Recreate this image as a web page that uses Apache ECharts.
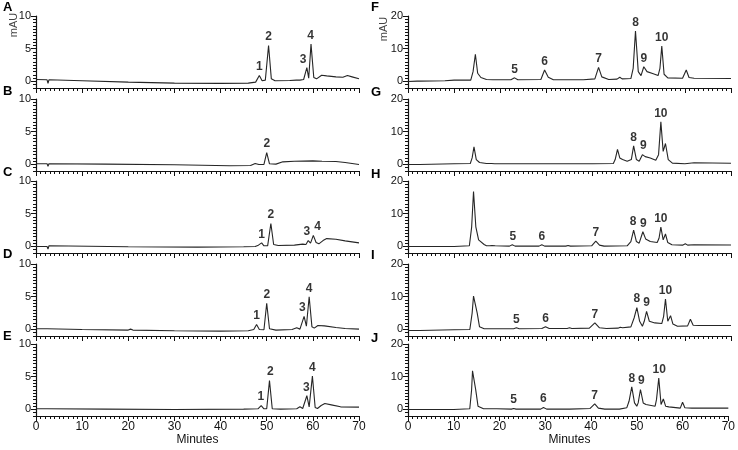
<!DOCTYPE html>
<html><head><meta charset="utf-8">
<script src="https://cdn.jsdelivr.net/npm/echarts@6/dist/echarts.min.js"></script>
<style>html,body{margin:0;padding:0;background:#fff}#c{width:738px;height:450px}</style>
</head><body><div id="c"></div>
<script>
// ---------- data ----------
const panelLetters = ['A','B','C','D','E','F','G','H','I','J'];
const xTickValues = [0,10,20,30,40,50,60,70];
const yTicksLeft = [0,5,10];
const yTicksRight = [0,10,20];
const xTitle = 'Minutes';
const yTitle = 'mAU';

// traces: [minutes, mAU]
const traceA = [[0,0.3],[2.4,0.25],[2.6,-0.3],[2.8,0.25],[10,0.1],[20,-0.1],[30,-0.25],[40,-0.3],[46,-0.25],
 [47.6,-0.1],[48.4,0.9],[49.0,0.1],[49.7,0.2],[50.4,5.5],[51.0,0.4],[51.8,0.1],
 [55,0.15],[56.4,0.2],[56.8,0.45],[57.2,0.2],[58.0,0.3],[58.7,2.1],[59.1,0.5],[59.6,5.7],[60.2,0.6],[60.8,0.4],
 [61.9,0.95],[63,0.85],[65,0.7],[66.5,0.65],[67.5,0.9],[68.5,0.7],[70,0.4]];
const traceB = [[0,0.1],[2.4,0.1],[2.6,-0.3],[2.8,0.1],[15,0.05],[30,-0.05],[42,-0.2],[46.5,-0.15],[47.5,0.15],
 [48.3,0],[49.4,0],[50.0,1.8],[50.6,0.1],[52,0.05],[53.5,0.4],[56,0.5],[60,0.55],[62,0.5],[65,0.45],[67,0.3],[70,0.0]];
const traceC = [[0,0],[2.4,0],[2.6,-0.4],[2.8,0.1],[3.0,0],[20,-0.05],[35,-0.1],[45,-0.05],[47.5,0],[48.2,0.2],
 [48.9,0.55],[49.4,0.1],[50.2,0.1],[50.9,3.5],[51.5,0.3],[52.5,0.15],[56,0.2],[57.8,0.35],[58.5,0.3],[59.0,0.9],
 [59.5,0.5],[60.1,1.7],[60.7,0.6],[61.3,0.4],[62.2,0.9],[63.0,1.2],[65,1.1],[67,0.85],[70,0.55]];
const traceD = [[0,0.1],[2.4,0.1],[2.6,-0.2],[2.8,0.1],[10,0.0],[20,-0.1],[20.5,0.05],[21,-0.1],[30,-0.2],[40,-0.25],
 [46,-0.2],[47.2,0],[47.8,0.75],[48.4,0],[49.4,-0.05],[50.0,4.0],[50.6,0.1],[52,-0.1],[55.5,0],[56.5,0.25],
 [57.2,0.05],[57.6,0.3],[58.1,2.0],[58.6,0.5],[59.2,5.0],[59.8,0.4],[60.3,0.2],[61.1,0.6],[62.5,0.55],[65,0.3],
 [67,0.15],[70,0.05]];
const traceE = [[0,0.1],[2.4,0.1],[2.6,-0.2],[2.8,0.1],[15,0.05],[30,0.0],[45,0.05],[48.1,0.1],[48.8,0.6],[49.4,0.1],
 [50.0,0.1],[50.6,4.4],[51.2,0.1],[53,0.05],[56.5,0.1],[57.2,0.4],[57.8,0.15],[58.2,0.3],[58.7,2.1],[59.2,0.4],
 [59.9,5.1],[60.5,0.3],[61,0.15],[61.8,0.6],[62.6,0.9],[64,0.7],[66,0.4],[70,0.35]];
const traceF = [[0,0],[2,0.1],[2.2,0.4],[2.5,0.1],[8,0.2],[10,0.4],[10.3,0.7],[10.6,0.4],[13.6,0.4],[14.1,3],
 [14.6,8.3],[15.1,2.5],[15.8,1.2],[17,0.6],[18.4,0.5],[18.8,0.9],[19.2,0.5],[22.3,0.5],[23.1,1.1],[23.8,0.5],
 [28.8,0.6],[29.6,3.5],[30.4,1.3],[31.5,0.5],[38,0.5],[40.5,0.8],[41.3,4.3],[42.0,1.4],[43.5,0.6],[45.3,0.7],
 [45.9,1.3],[46.4,0.8],[48.3,0.9],[48.8,4],[49.3,15.4],[49.9,3],[50.5,1.8],[51.1,4.5],[51.8,3],[53,2.4],
 [54.2,1.8],[54.6,4],[55.0,10.8],[55.5,2.2],[56.3,1.1],[59.5,1.0],[60.3,3.5],[60.9,1.2],[62,1.0],[70,0.9]];
const traceG = [[0,0],[2,0],[2.2,0.3],[2.5,0],[10,0.2],[13.5,0.3],[13.9,2],[14.3,5.4],[14.8,1.5],[15.5,0.6],
 [17,0.3],[18.1,0.3],[18.4,0.6],[18.8,0.2],[30,0.2],[40,0.2],[44.5,0.3],[44.9,1.5],[45.4,4.6],[45.9,2],
 [46.5,1.5],[47.5,1.0],[48.4,1.5],[48.9,5.7],[49.5,1.5],[50.1,1.0],[50.8,3.0],[51.4,2.4],[52.5,2.0],[53.7,1.3],
 [54.3,3],[54.8,13.0],[55.3,4],[55.8,6.4],[56.4,1.5],[57.3,0.4],[60,0.2],[62,0.5],[70,0.35]];
const traceH = [[0,0],[2,0],[2.2,0.3],[2.5,0],[10,0],[13.3,0.2],[13.8,6],[14.2,16.8],[14.7,6],[15.3,2],
 [16.5,0.6],[17.0,0.2],[17.3,0.5],[17.7,0.2],[18.2,0.3],[18.5,0.7],[18.9,0.2],[22,0.1],[22.6,0.5],[23.2,0.1],
 [28.4,0.1],[29.0,0.5],[29.6,0.1],[34.2,0.1],[34.7,0.3],[35.2,0.1],[39.8,0.2],[40.7,1.6],[41.5,0.4],[42.5,0.1],
 [47.5,0.2],[48.3,1.5],[48.9,5.0],[49.5,1.5],[50.1,1.0],[50.9,4.5],[51.5,2.3],[52.5,1.5],[54.0,1.2],[54.4,2.5],
 [54.8,5.9],[55.3,2.0],[55.8,3.8],[56.3,1.2],[57.2,0.5],[59.5,0.4],[60.1,0.8],[60.6,0.4],[62,0.5],[70,0.45]];
const traceI = [[0,-0.3],[2,-0.3],[2.2,0.1],[2.5,-0.3],[10,-0.1],[13.4,0],[13.9,5],[14.2,10.2],[14.4,9.8],[14.6,10.7],
 [15.0,5],[15.5,0.8],[16.5,0.2],[22.9,0.2],[23.5,0.5],[24.1,0.2],[29.0,0.3],[29.8,0.8],[30.6,0.3],[34.5,0.3],
 [35,0.5],[35.5,0.3],[39.3,0.4],[40.5,2.0],[41.5,0.5],[43,0.3],[45.5,0.4],[46,0.7],[46.5,0.5],[48.3,0.8],
 [49.0,3.5],[49.6,6.7],[50.2,2.5],[50.8,1.0],[51.2,2.5],[51.7,5.5],[52.3,2.5],[53.5,2.0],[55.0,1.8],[55.4,4],
 [55.8,9.3],[56.3,2.5],[56.9,4.2],[57.4,1.7],[57.8,1.6],[58.4,1.0],[60.6,1.1],[61.2,3.1],[61.8,1.3],[63,1.2],[70,1.2]];
const traceJ = [[0,0],[2,0],[2.2,0.3],[2.5,0],[10,0],[13.5,0.2],[13.9,6],[14.1,11.8],[14.5,12.0],[14.8,6],
 [15.3,1.0],[16.5,0.2],[17.3,0.2],[17.6,0.4],[18,0.2],[18.7,0.2],[19.0,0.5],[19.4,0.2],[22.6,0.1],[23.1,0.3],
 [23.6,0.1],[29.0,0.1],[29.6,0.6],[30.3,0.1],[34.7,0.1],[35,0.3],[35.3,0.1],[39.8,0.3],[40.8,1.7],[41.6,0.4],
 [43,0.1],[45.4,0.1],[45.8,0.4],[46.2,0.1],[47.8,0.5],[48.3,2.5],[48.9,6.9],[49.5,2],[50.0,1.0],[50.3,2],
 [50.8,6.1],[51.4,2],[52,1.5],[54.0,1.0],[54.3,3],[54.8,9.6],[55.3,1.5],[55.8,3.2],[56.3,1.0],[57.0,0.8],
 [59.5,0.4],[60.0,2.2],[60.5,0.5],[62,0.4],[70,0.4]];

// peak labels: [minutes, peak height, text]
const labelsA = [[48.4,0.9,'1'],[50.4,5.5,'2'],[57.9,2.1,'3'],[59.5,5.7,'4']];
const labelsB = [[50.0,1.8,'2']];
const labelsC = [[48.9,0.55,'1'],[50.9,3.5,'2'],[58.7,0.9,'3'],[61.0,1.7,'4']];
const labelsD = [[47.8,0.75,'1'],[50.0,4.0,'2'],[57.7,2.0,'3'],[59.2,5.0,'4']];
const labelsE = [[48.7,0.6,'1'],[50.8,4.4,'2'],[58.6,2.1,'3'],[59.9,5.1,'4']];
const labelsF = [[23.1,1.1,'5'],[29.6,3.5,'6'],[41.3,4.3,'7'],[49.3,15.4,'8'],[51.1,4.5,'9'],[55.0,10.8,'10']];
const labelsG = [[48.9,5.7,'8'],[51.0,3.0,'9'],[54.8,13.0,'10']];
const labelsH = [[22.7,0.5,'5'],[29.0,0.5,'6'],[40.7,1.6,'7'],[48.8,5.0,'8'],[51.0,4.5,'9'],[54.8,5.9,'10']];
const labelsI = [[23.5,0.5,'5'],[29.8,0.8,'6'],[40.5,2.0,'7'],[49.6,6.7,'8'],[51.7,5.5,'9'],[55.8,9.3,'10']];
const labelsJ = [[23.1,0.3,'5'],[29.6,0.6,'6'],[40.8,1.7,'7'],[48.9,6.9,'8'],[51.0,6.1,'9'],[54.9,9.6,'10']];

// ---------- layout / styles ----------
const traces = [traceA,traceB,traceC,traceD,traceE,traceF,traceG,traceH,traceI,traceJ];
const peakLabels = [labelsA,labelsB,labelsC,labelsD,labelsE,labelsF,labelsG,labelsH,labelsI,labelsJ];
const FONT = 'Liberation Sans';
const tops = [16, 99, 181, 264, 344];
const gridH = 72;
const gridLeft = [36, 408];
const gridW = 323;
const letterPos = [[[3,7.5],[3,91],[3,172.5],[3,254],[3,336]], [[371,7],[371,92],[371,174],[371,255],[371,338]]];
const axisColor = '#111';

const grids = [], xAxes = [], yAxes = [], series = [], graphics = [];
for (let i = 0; i < 10; i++) {
  const side = i < 5 ? 0 : 1;
  const row = i % 5;
  const yMin = side ? -2 : -1, yMax = side ? 20 : 10;
  const yMajor = side ? yTicksRight : yTicksLeft;
  grids.push({left: gridLeft[side], width: gridW, top: tops[row], height: gridH});
  const last = row === 4;
  // x axis: major ticks every 10 with minor ticks every minute
  xAxes.push({
    type: 'value', gridIndex: i, min: 0, max: 70, interval: 10,
    axisLine: {show: true, onZero: false, lineStyle: {color: axisColor, width: 1.2}},
    axisTick: {show: true, length: 5, lineStyle: {color: axisColor, width: 1}},
    minorTick: {show: true, splitNumber: 10, length: 3, lineStyle: {color: axisColor, width: 1}},
    axisLabel: {show: last, fontSize: 12, color: '#111', margin: 5, fontFamily: FONT},
    splitLine: {show: false}
  });
  // y axis (minor ticks): every 0.5 / 1 unit, counted from min
  yAxes.push({
    type: 'value', gridIndex: i, position: 'left', min: yMin, max: yMax, interval: side ? 1 : 0.5,
    axisLine: {show: true, onZero: false, lineStyle: {color: axisColor, width: 1.2}},
    axisTick: {show: true, length: 3, lineStyle: {color: axisColor, width: 1}},
    axisLabel: {show: false}, splitLine: {show: false}
  });
  // y axis (major ticks + labels)
  yAxes.push({
    type: 'value', gridIndex: i, position: 'left', min: yMin, max: yMax,
    axisLine: {show: false},
    axisTick: {show: true, length: 5, customValues: yMajor, lineStyle: {color: axisColor, width: 1}},
    axisLabel: {show: true, customValues: yMajor, fontSize: 11, color: '#111', margin: 5, fontFamily: FONT},
    splitLine: {show: false}
  });
  series.push({
    type: 'line', xAxisIndex: i, yAxisIndex: 2*i, data: traces[i], showSymbol: false, symbol: 'none',
    lineStyle: {color: '#262626', width: 1.1}, z: 3
  });
  series.push({
    type: 'scatter', xAxisIndex: i, yAxisIndex: 2*i, data: peakLabels[i], symbolSize: 1,
    itemStyle: {color: 'rgba(0,0,0,0)'}, z: 4,
    label: {show: true, position: 'top', distance: 2, formatter: p => p.value[2],
      fontSize: 12, fontWeight: 'bold', color: '#000', fontFamily: FONT}
  });
  const lp = letterPos[side][row];
  graphics.push({type: 'text', x: lp[0], y: lp[1],
    style: {text: panelLetters[i], fontSize: 13, fontWeight: 'bold', fill: '#000', fontFamily: FONT,
      align: 'left', verticalAlign: 'middle'}});
}
graphics.push({type: 'text', x: 14, y: 25, rotation: Math.PI/2,
  style: {text: yTitle, fontSize: 11, fill: '#444', fontFamily: FONT, align: 'center', verticalAlign: 'middle'}});
graphics.push({type: 'text', x: 383.5, y: 29, rotation: Math.PI/2,
  style: {text: yTitle, fontSize: 11, fill: '#444', fontFamily: FONT, align: 'center', verticalAlign: 'middle'}});
graphics.push({type: 'text', x: 197.5, y: 440, style: {text: xTitle, fontSize: 12, fill: '#111', fontFamily: FONT, align: 'center', verticalAlign: 'middle'}});
graphics.push({type: 'text', x: 569.5, y: 440, style: {text: xTitle, fontSize: 12, fill: '#111', fontFamily: FONT, align: 'center', verticalAlign: 'middle'}});

const chart = echarts.init(document.getElementById('c'));
chart.setOption({
  animation: false,
  grid: grids, xAxis: xAxes, yAxis: yAxes, series: series, graphic: graphics
});
</script></body></html>
